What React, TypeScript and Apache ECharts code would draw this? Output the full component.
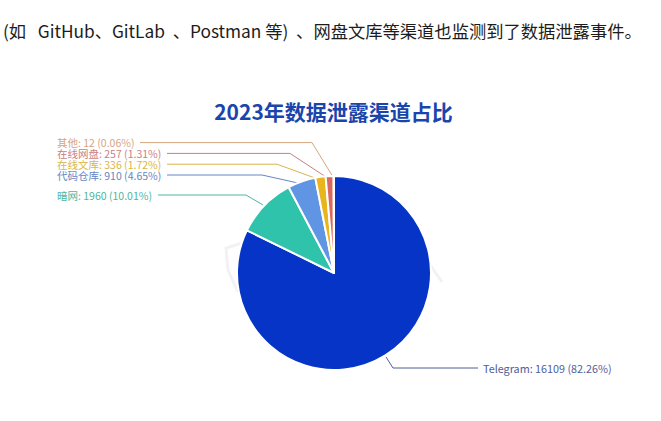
import React, { useEffect, useRef } from 'react';
import * as echarts from 'echarts';

const channels = ['Telegram', '暗网', '代码仓库', '在线文库', '在线网盘', '其他'];
const counts = [16109, 1960, 910, 336, 257, 12];
const sliceColors = ['#0534c6', '#30c3ac', '#5f95e3', '#e9b51f', '#d9695f', '#eaa878'];
const labelColors = ['#4f5d9c', '#4fb5a0', '#6487c4', '#d9b54a', '#c97f82', '#d6a67e'];

const headline = '(如   GitHub、GitLab  、Postman 等)  、网盘文库等渠道也监测到了数据泄露事件。';
const chartTitle = '2023年数据泄露渠道占比';

const total = counts.reduce((sum, n) => sum + n, 0);

// label anchor and leader line for each slice
const labelSpots = [
    { x: 483, y: 368, line: [[386, 357], [393, 368], [478, 368]] },
    { x: 57, y: 195, line: [[263, 205], [246, 195], [158, 195]] },
    { x: 57, y: 175, line: [[298, 183], [262, 175], [167, 175]] },
    { x: 57, y: 164.2, line: [[315, 178], [277, 164.2], [167, 164.2]] },
    { x: 57, y: 153.4, line: [[326, 177], [290, 153.4], [167, 153.4]] },
    { x: 57, y: 142.6, line: [[333, 177], [312, 142.6], [140, 142.6]] },
];

const App: React.FC = () => {
    const chartRef = useRef<HTMLDivElement>(null);

    useEffect(() => {
        if (!chartRef.current) return;
        const chartInstance = echarts.init(chartRef.current, null, { renderer: 'svg' });

        const option = {
            animation: false,
            backgroundColor: '#ffffff',
            title: {
                text: chartTitle,
                left: 328.5,
                top: 95,
                textAlign: 'center',
                textStyle: {
                    fontFamily: '"Noto Sans CJK SC"',
                    fontSize: 21,
                    fontWeight: 'bold',
                    color: '#1a45ac',
                },
            },
            graphic: [
                {
                    type: 'text',
                    left: 3,
                    top: 22,
                    style: {
                        text: headline,
                        fontFamily: '"Noto Sans CJK SC"',
                        fontSize: 17.3,
                        fill: '#1c1c1c',
                    },
                },
                // faint watermark peeking out from behind the pie
                {
                    type: 'polyline',
                    z: -1,
                    shape: { points: [[242, 243], [226, 248], [228, 270], [238, 292]] },
                    style: { stroke: '#f2f2f4', lineWidth: 3, fill: 'none' },
                },
                {
                    type: 'polyline',
                    z: -1,
                    shape: { points: [[428, 262], [442, 282]] },
                    style: { stroke: '#f2f2f4', lineWidth: 3, fill: 'none' },
                },
            ],
            series: [
                {
                    type: 'pie',
                    center: [334, 273],
                    radius: [0, 97],
                    startAngle: 90,
                    itemStyle: { borderColor: '#ffffff', borderWidth: 2 },
                    label: {
                        // plain rounding, the reference's shares add up to 100.01
                        formatter: (params: any) =>
                            `${params.name}: ${params.value} (${((params.value / total) * 100).toFixed(2)}%)`,
                        fontFamily: '"Noto Sans CJK SC"',
                        fontSize: 10.5,
                        lineHeight: 10,
                    },
                    labelLine: { show: true, lineStyle: { width: 1 } },
                    labelLayout: (params: any) => {
                        const spot = labelSpots[params.dataIndex];
                        return {
                            x: spot.x,
                            y: spot.y,
                            align: 'left',
                            verticalAlign: 'middle',
                            labelLinePoints: spot.line,
                        };
                    },
                    data: channels.map((name, i) => ({
                        name,
                        value: counts[i],
                        itemStyle: { color: sliceColors[i] },
                        label: { color: labelColors[i], fontSize: i === 0 ? 10.8 : 10.5 },
                        labelLine: { lineStyle: { color: labelColors[i] } },
                    })),
                },
            ],
        };

        chartInstance.setOption(option);

        return () => {
            chartInstance.dispose();
        };
    }, []);

    return <div ref={chartRef} style={{ position: 'fixed', left: 0, top: 0, width: 661, height: 421 }} />;
};

export default App;
